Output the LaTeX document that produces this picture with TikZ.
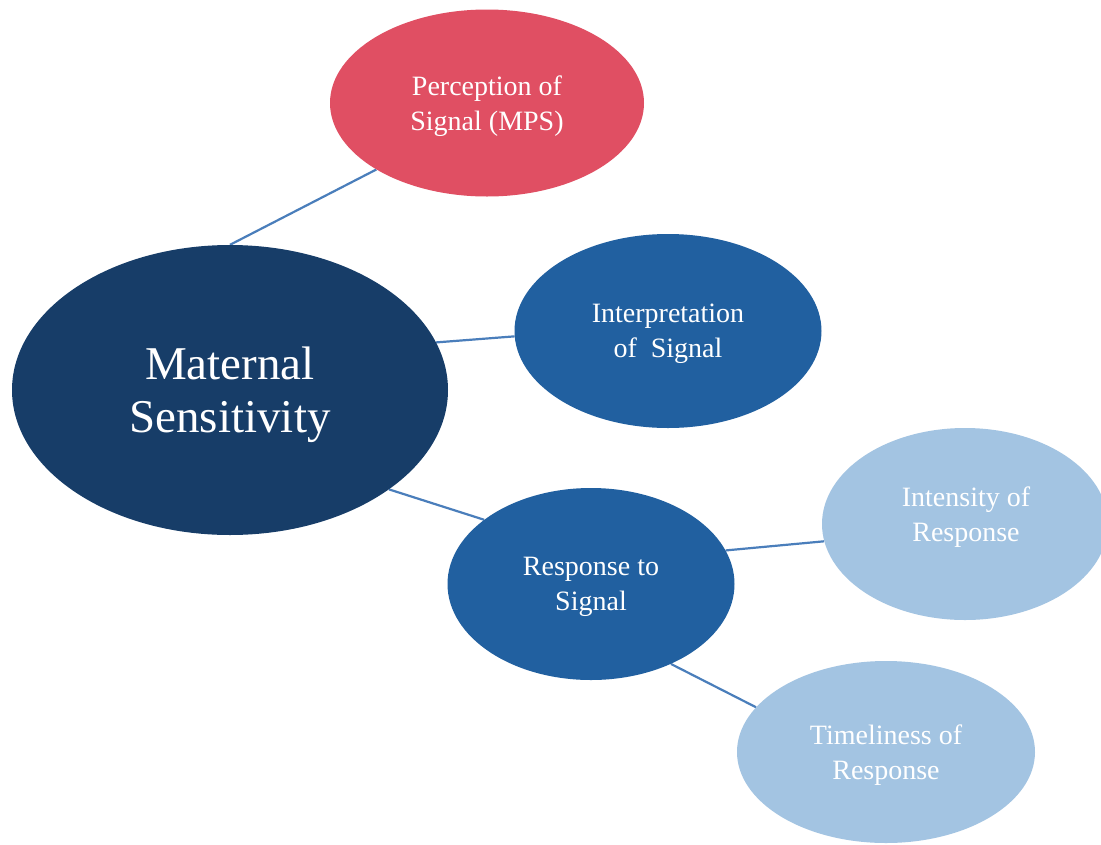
\documentclass[tikz,border=0pt]{standalone}
\usepackage{fontspec}
\setmainfont{Liberation Serif}
\usetikzlibrary{shapes.geometric,backgrounds}
\definecolor{navy}{RGB}{23,61,104}
\definecolor{rosered}{RGB}{224,79,99}
\definecolor{midblue}{RGB}{33,96,160}
\definecolor{lightblue}{RGB}{163,196,226}
\definecolor{linkblue}{RGB}{74,126,187}
\tikzset{
  bubble/.style={ellipse, inner sep=0pt, text=white, align=center, text depth=0pt,
    font=\fontsize{28}{35}\selectfont},
  link/.style={draw=linkblue, line width=2.2pt},
}
\begin{document}
\begin{tikzpicture}[x=1pt,y=-1pt]
\clip (0,0) rectangle (1101,844);
\node[bubble, fill=navy, minimum width=436pt, minimum height=290pt,
  font=\fontsize{47}{53}\selectfont] (m) at (230,390) {Maternal\\Sensitivity};
\node[bubble, fill=rosered, minimum width=314pt, minimum height=187pt] (p) at (487,103) {Perception of\\Signal (MPS)};
\node[bubble, fill=midblue, minimum width=307pt, minimum height=194pt] (i) at (668,331) {Interpretation\\of\ \ Signal};
\node[bubble, fill=midblue, minimum width=287pt, minimum height=192pt] (r) at (591,584) {Response to\\Signal};
\node[bubble, fill=lightblue, minimum width=286pt, minimum height=192pt] (n) at (965,524) {};
\node[bubble] (nt) at (966,514) {Intensity of\\Response};
\node[bubble, fill=lightblue, minimum width=298pt, minimum height=182pt] (t) at (886,752) {Timeliness of\\Response};
\begin{scope}[on background layer]
  \fill[white] (0,0) rectangle (1101,844);
  \draw[link] (m.north) -- (p.-149);
  \draw[link] (m.13) -- (i.182);
  \draw[link] (m.-32) -- (r.149);
  \draw[link] (r.14) -- (n.187);
  \draw[link] (r.-45) -- (t.161);
\end{scope}
\end{tikzpicture}
\end{document}
